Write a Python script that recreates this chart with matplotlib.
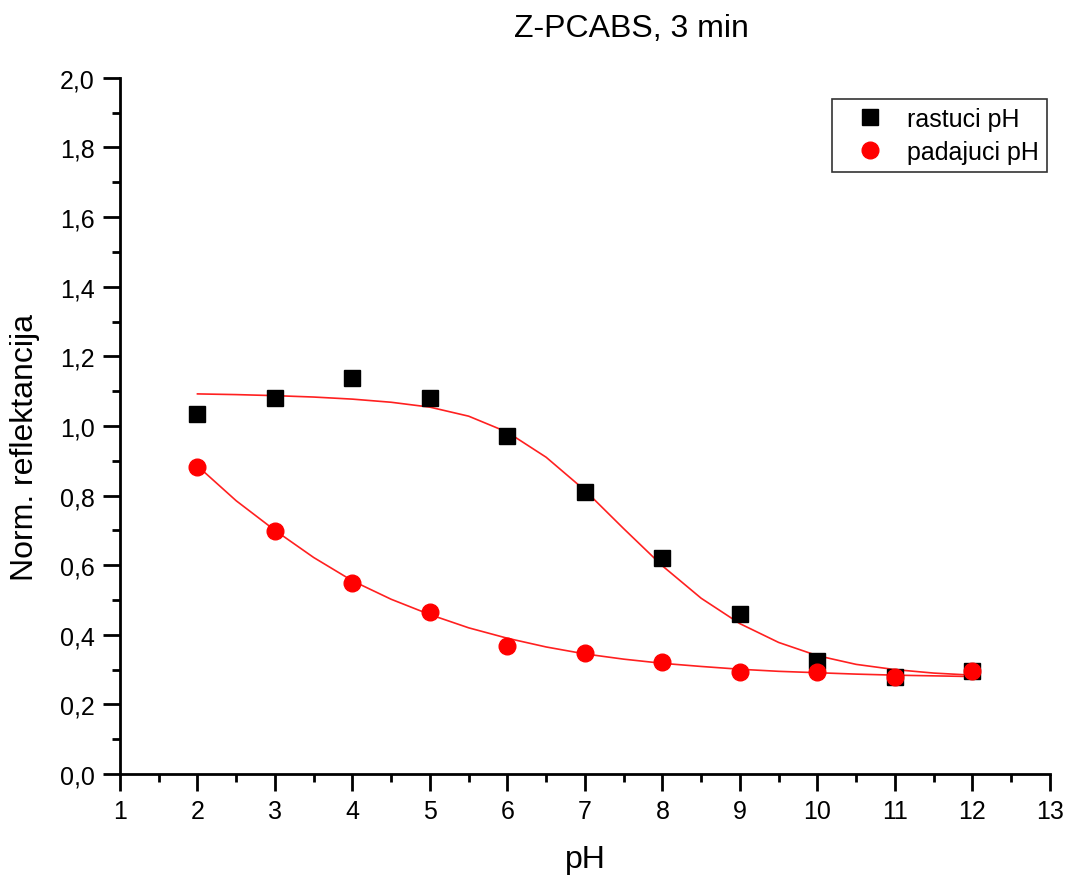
import matplotlib.pyplot as plt
from matplotlib.ticker import FuncFormatter, MultipleLocator

plt.rcParams["font.family"] = ["Liberation Sans", "DejaVu Sans"]

PH = [2, 3, 4, 5, 6, 7, 8, 9, 10, 11, 12]
RASTUCI = [1.035, 1.08, 1.137, 1.08, 0.972, 0.81, 0.62, 0.46, 0.325, 0.28, 0.295]
PADAJUCI = [0.882, 0.697, 0.55, 0.465, 0.367, 0.347, 0.322, 0.293, 0.293, 0.278, 0.295]

# fitted curves
FIT_X = [2, 2.5, 3, 3.5, 4, 4.5, 5, 5.5, 6, 6.5, 7, 7.5, 8, 8.5, 9, 9.5, 10, 10.5, 11, 11.5, 12]
FIT_RASTUCI = [1.092, 1.090, 1.087, 1.083, 1.077, 1.068, 1.054, 1.028, 0.982, 0.91, 0.815,
               0.705, 0.598, 0.505, 0.432, 0.378, 0.340, 0.315, 0.300, 0.290, 0.284]
FIT_PADAJUCI = [0.885, 0.785, 0.700, 0.622, 0.555, 0.502, 0.458, 0.420, 0.390, 0.365, 0.345,
                0.330, 0.318, 0.309, 0.301, 0.295, 0.291, 0.287, 0.284, 0.282, 0.280]

fig = plt.figure(figsize=(10.75, 8.79), dpi=100)
ax = fig.add_axes([0.1116, 0.1183, 0.865, 0.792])

ax.plot(FIT_X, FIT_RASTUCI, "-", color="#ff2020", lw=1.2, zorder=2)
ax.plot(FIT_X, FIT_PADAJUCI, "-", color="#ff2020", lw=1.2, zorder=2)
ax.plot(PH, RASTUCI, "s", color="black", ms=11, ls="none", label="rastuci pH", zorder=3)
ax.plot(PH, PADAJUCI, "o", color="red", ms=12, ls="none", label="padajuci pH", zorder=4)

ax.set_xlim(1, 13)
ax.set_ylim(0, 2.0)
ax.xaxis.set_major_locator(MultipleLocator(1))
ax.xaxis.set_minor_locator(MultipleLocator(0.5))
ax.yaxis.set_major_locator(MultipleLocator(0.2))
ax.yaxis.set_minor_locator(MultipleLocator(0.1))
ax.yaxis.set_major_formatter(FuncFormatter(lambda v, p: f"{v:.1f}".replace(".", ",")))

for side in ["top", "right"]:
    ax.spines[side].set_visible(False)
for side in ["left", "bottom"]:
    ax.spines[side].set_linewidth(2)
ax.tick_params(which="major", direction="out", length=12, width=2, labelsize=18, pad=6)
ax.tick_params(which="minor", direction="out", length=6, width=2)

ax.set_xlabel("pH", fontsize=23, labelpad=15)
ax.set_ylabel("Norm. reflektancija", fontsize=23)
ax.yaxis.set_label_coords(-0.086, 0.47)
ax.set_title("Z-PCABS, 3 min", fontsize=23, pad=30, x=0.55)

leg = ax.legend(loc="upper right", bbox_to_anchor=(0.997, 0.97), borderaxespad=0,
                fontsize=18, frameon=True, fancybox=False, edgecolor="black",
                handletextpad=0.28, borderpad=0.32, labelspacing=0.36, handlelength=2.4)
leg.get_frame().set_linewidth(1.2)

fig.savefig("out.png", dpi=100)
